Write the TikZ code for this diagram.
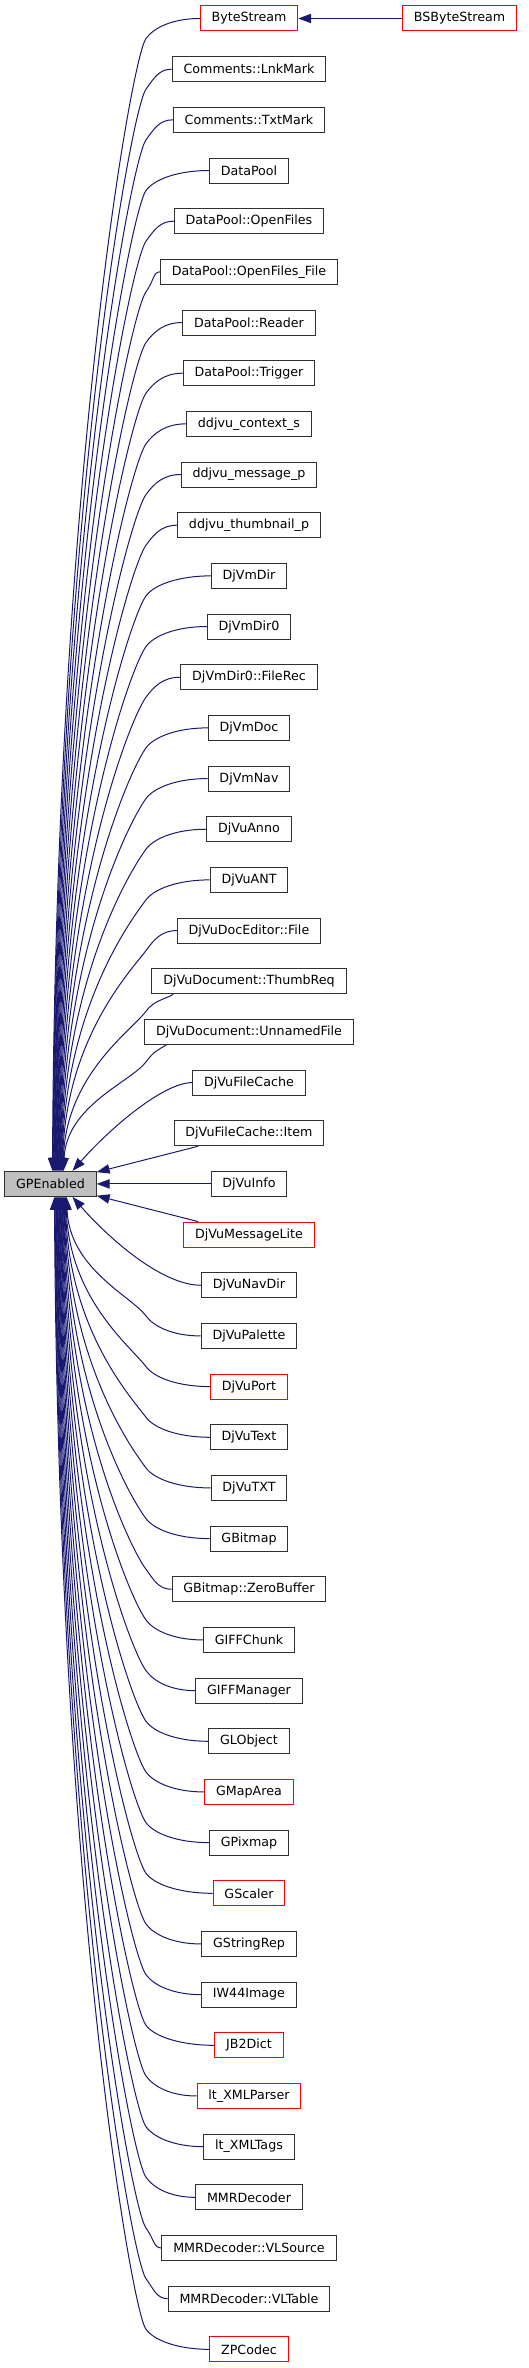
\documentclass[tikz,border=0pt]{standalone}
\usepackage{fontspec}
\setmainfont{DejaVu Sans}
\usetikzlibrary{arrows.meta, positioning, calc}
\definecolor{edgenavy}{HTML}{191970}
\definecolor{basegray}{HTML}{BFBFBF}
\definecolor{boxline}{HTML}{303030}

\begin{document}
\begin{tikzpicture}[
  x=0.75pt, y=0.75pt,
  classbox/.style   = {rectangle, draw=#1, line width=0.75pt, fill=white,
                        minimum height=18.75pt, inner xsep=8.5pt, inner ysep=0pt,
                        font=\fontsize{9.5pt}{11pt}\selectfont},
  classbox/.default = boxline,
  baseclass/.style  = {classbox, fill=basegray},
  inhedge/.style    = {-{Triangle[length=9.75pt, width=7pt]}, draw=edgenavy, line width=0.75pt},
]
\useasboundingbox (0,0) rectangle (528,-2368);

%% Derived classes, one per row
\foreach \lbl/\col [count=\i from 0] in {
    ByteStream/red, Comments::LnkMark/boxline, Comments::TxtMark/boxline,
    DataPool/boxline, DataPool::OpenFiles/boxline, DataPool::OpenFiles\_File/boxline,
    DataPool::Reader/boxline, DataPool::Trigger/boxline, ddjvu\_context\_s/boxline,
    ddjvu\_message\_p/boxline, ddjvu\_thumbnail\_p/boxline, DjVmDir/boxline,
    DjVmDir0/boxline, DjVmDir0::FileRec/boxline, DjVmDoc/boxline, DjVmNav/boxline,
    DjVuAnno/boxline, DjVuANT/boxline, DjVuDocEditor::File/boxline,
    DjVuDocument::ThumbReq/boxline, DjVuDocument::UnnamedFile/boxline,
    DjVuFileCache/boxline, DjVuFileCache::Item/boxline, DjVuInfo/boxline,
    DjVuMessageLite/red, DjVuNavDir/boxline, DjVuPalette/boxline, DjVuPort/red,
    DjVuText/boxline, DjVuTXT/boxline, GBitmap/boxline, GBitmap::ZeroBuffer/boxline,
    GIFFChunk/boxline, GIFFManager/boxline, GLObject/boxline, GMapArea/red,
    GPixmap/boxline, GScaler/red, GStringRep/boxline, IW44Image/boxline,
    JB2Dict/red, lt\_XMLParser/red, lt\_XMLTags/boxline, MMRDecoder/boxline,
    MMRDecoder::VLSource/boxline, MMRDecoder::VLTable/boxline, ZPCodec/red}
  \node[classbox=\col] (c\i) at (249, {-18.5-50.67*\i}) {\lbl};

%% Base class and the one grandchild
\node[baseclass] (gp) at (50.5, {-18.5-50.67*23}) {GPEnabled};
\node[classbox=red] (bs) at (459.5,-18.5) {BSByteStream};
\draw[inhedge] (bs) -- (c0);

%% Edges from the rows above
\foreach \i in {0,...,18}{
  \pgfmathsetmacro\yy{-18.5-50.67*\i}
  \pgfmathsetmacro\hh{0.6*(\yy-20+1171)}
  \pgfmathsetmacro\dx{2+0.55*\i}
  \draw[inhedge] (c\i.west) .. controls ($(c\i.west)!0.5!(146,\yy)$) and +(8,11) .. (146,\yy-20)
    .. controls +(-15,-20) and +(3,\hh) .. ($(gp.north)+(\dx,0)$);
}
\foreach \i in {19,20}{
  \pgfmathsetmacro\yy{-18.5-50.67*\i}
  \pgfmathsetmacro\hh{0.6*(\yy-30+1171)}
  \pgfmathsetmacro\dx{2+0.55*\i}
  \draw[inhedge] ($(c\i.south west)+(22,0)$) .. controls +(-8,-5) and +(8,11) .. (146,\yy-30)
    .. controls +(-15,-20) and +(3,\hh) .. ($(gp.north)+(\dx,0)$);
}
\draw[inhedge] (c21.west) .. controls +(-30,0) and +(35,40) .. ($(gp.north)+(22,0)$);

%% Nearly level edges
\foreach \i in {22,23,24}
  \draw[inhedge] (c\i) -- (gp);

%% Edges from the rows below
\draw[inhedge] (c25.west) .. controls +(-40,0) and +(35,-40) .. ($(gp.south)+(22,0)$);
\foreach \i in {26,...,46}{
  \pgfmathsetmacro\yy{-18.5-50.67*\i}
  \pgfmathsetmacro\hh{0.6*(-1196.5-\yy-20)}
  \pgfmathsetmacro\dx{16-0.6*(\i-26)}
  \draw[inhedge] (c\i.west) .. controls ($(c\i.west)!0.5!(146,\yy)$) and +(8,-11) .. (146,\yy+20)
    .. controls +(-15,20) and +(3,-\hh) .. ($(gp.south)+(\dx,0)$);
}

\end{tikzpicture}
\end{document}
